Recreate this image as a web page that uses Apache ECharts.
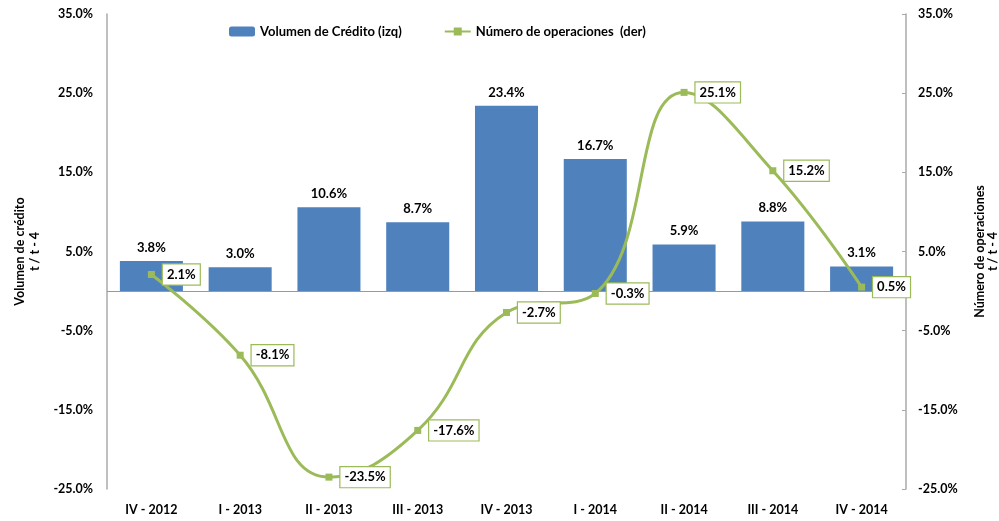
<!DOCTYPE html>
<html>
<head>
<meta charset="utf-8">
<script src="https://cdn.jsdelivr.net/npm/echarts@6/dist/echarts.min.js"></script>
<style>
  html, body { margin: 0; padding: 0; background: #fff; }
  #chart { width: 999px; height: 521px; }
</style>
</head>
<body>
<div id="chart"></div>
<script>
// trimestres
var categories = ['IV - 2012', 'I - 2013', 'II - 2013', 'III - 2013', 'IV - 2013', 'I - 2014', 'II - 2014', 'III - 2014', 'IV - 2014']
// Volumen de Crédito (izq), % t/t-4
var volumenCredito = [3.8, 3.0, 10.6, 8.7, 23.4, 16.7, 5.9, 8.8, 3.1]
// Número de operaciones (der), % t/t-4
var numeroOperaciones = [2.1, -8.1, -23.5, -17.6, -2.7, -0.3, 25.1, 15.2, 0.5]
// marcas de los ejes
var yTicks = [-25, -15, -5, 5, 15, 25, 35]

var font = 'Lato, "Open Sans", sans-serif'
var pct = function (v) { return v.toFixed(1) + '%' }

var chart = echarts.init(document.getElementById('chart'))
chart.setOption({
  animation: false,
  textStyle: { fontFamily: font, color: '#000' },
  grid: { left: 107, right: 93, top: 14, bottom: 32, containLabel: false, outerBoundsMode: 'none' },
  legend: {
    left: 224,
    top: 20,
    itemWidth: 26,
    itemHeight: 10,
    itemGap: 42,
    textStyle: { fontFamily: font, fontWeight: 'bold', fontSize: 13, color: '#000' },
    data: ['Volumen de Crédito (izq)', 'Número de operaciones  (der)']
  },
  xAxis: {
    type: 'category',
    data: categories,
    axisLine: { show: false },
    axisTick: { show: false },
    axisLabel: { fontFamily: font, fontWeight: 'bold', fontSize: 12.5, color: '#000', margin: 14 }
  },
  yAxis: [
    {
      type: 'value',
      min: -25,
      max: 35,
      position: 'left',
      name: 'Volumen de crédito\nt / t - 4',
      nameLocation: 'middle',
      nameRotate: 90,
      nameGap: 65,
      nameTextStyle: { fontFamily: font, fontWeight: 'bold', fontSize: 12.5, color: '#000', lineHeight: 15 },
      axisLine: { show: true, lineStyle: { color: '#aaa', width: 1.5 } },
      axisTick: { show: false },
      splitLine: { show: false },
      axisLabel: {
        customValues: yTicks,
        formatter: function (v) { return pct(v) },
        fontFamily: font, fontWeight: 'bold', fontSize: 12.5, color: '#000', margin: 14
      }
    },
    {
      type: 'value',
      min: -25,
      max: 35,
      position: 'right',
      name: 'Número de operaciones\nt / t - 4',
      nameLocation: 'middle',
      nameRotate: 90,
      nameGap: 67,
      nameTextStyle: { fontFamily: font, fontWeight: 'bold', fontSize: 12.5, color: '#000', lineHeight: 13 },
      axisLine: { show: true, lineStyle: { color: '#aaa', width: 1.5 } },
      axisTick: { show: true, inside: true, length: 4, customValues: yTicks, lineStyle: { color: '#aaa' } },
      splitLine: { show: false },
      axisLabel: {
        customValues: yTicks,
        formatter: function (v) { return pct(v) },
        fontFamily: font, fontWeight: 'bold', fontSize: 12.5, color: '#000', margin: 12
      }
    }
  ],
  series: [
    {
      name: 'Volumen de Crédito (izq)',
      type: 'bar',
      yAxisIndex: 0,
      data: volumenCredito,
      barCategoryGap: '29%',
      itemStyle: { color: '#4F81BD' },
      label: {
        show: true,
        position: 'top',
        distance: 7,
        formatter: function (p) { return pct(p.value) },
        fontFamily: font, fontWeight: 'bold', fontSize: 13, color: '#000'
      },
      markLine: {
        silent: true,
        symbol: 'none',
        label: { show: false },
        lineStyle: { color: '#999', type: 'solid', width: 1.2 },
        data: [{ yAxis: 0 }]
      }
    },
    {
      name: 'Número de operaciones  (der)',
      type: 'line',
      yAxisIndex: 1,
      data: numeroOperaciones,
      smooth: 0.45,
      symbol: 'rect',
      symbolSize: 7,
      itemStyle: { color: '#9BBB59' },
      lineStyle: { color: '#9BBB59', width: 3 },
      label: {
        show: true,
        position: 'right',
        distance: 8,
        formatter: function (p) { return pct(p.value) },
        fontFamily: font, fontWeight: 'bold', fontSize: 13, color: '#000',
        backgroundColor: '#fff',
        borderColor: '#9BBB59',
        borderWidth: 1.2,
        padding: [4, 4, 3, 4]
      },
      z: 5
    }
  ]
})
</script>
</body>
</html>
